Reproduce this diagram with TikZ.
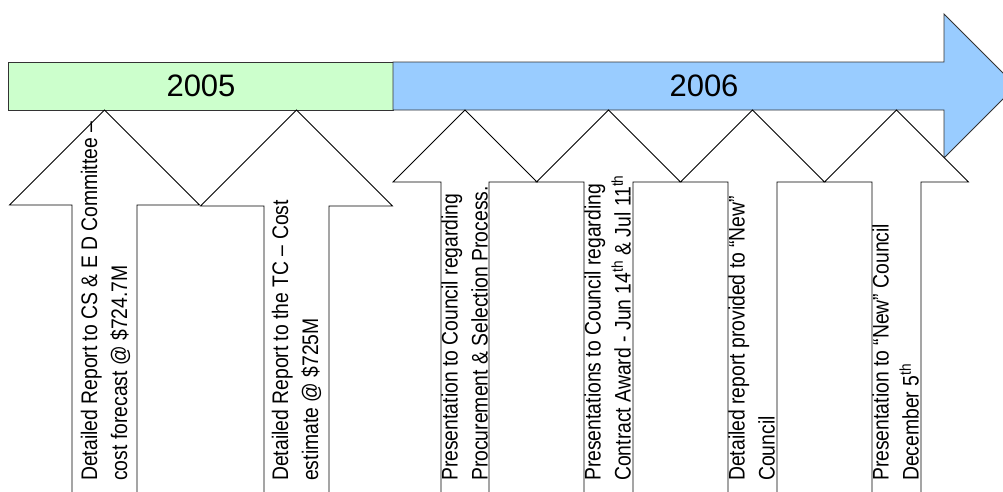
\documentclass[tikz,border=0pt]{standalone}
\usepackage{fontspec}
\setmainfont{Liberation Sans}
\newfontfamily\narrowfont{Liberation Sans}[FakeStretch=0.86]
\definecolor{green05}{HTML}{CCFFCC}
\definecolor{blue06}{HTML}{99CCFF}
\definecolor{edge}{HTML}{333333}
\begin{document}
\begin{tikzpicture}[x=1pt,y=-1pt,
  barpart/.style={draw=edge,line width=0.9pt,line join=miter},
  yearlabel/.style={inner sep=0pt,font=\fontsize{31}{36}\selectfont},
  evt/.style={draw=black,fill=white,line width=0.8pt,line join=miter},
  evtlabel/.style={rotate=90,anchor=north west,inner sep=0pt,align=left,
    font=\narrowfont\fontsize{22.5}{30}\selectfont}]
\useasboundingbox (0,0) rectangle (1003,491);
\clip (0,0) rectangle (1003,491);
% main timeline bar
\path[barpart,fill=green05] (8,62) rectangle (393,110);
\path[barpart,fill=blue06] (393,62) -- (944,62) -- (944,14) -- (1016,86) -- (944,158) -- (944,110) -- (393,110) -- cycle;
\node[yearlabel] (y2005) at (201,86) {2005};
\node[yearlabel] (y2006) at (704,86) {2006};
% event arrows
\path[evt] (104.5,110) -- (199.5,205) -- (137,205) -- (137,500) -- (72,500) -- (72,205) -- (9.5,205) -- cycle;
\path[evt] (296.5,110) -- (392.5,206) -- (329,206) -- (329,500) -- (264,500) -- (264,206) -- (200.5,206) -- cycle;
\path[evt] (465,110) -- (537,182) -- (489,182) -- (489,500) -- (441,500) -- (441,182) -- (393,182) -- cycle;
\path[evt] (608.5,110) -- (680.5,182) -- (633,182) -- (633,500) -- (584,500) -- (584,182) -- (536.5,182) -- cycle;
\path[evt] (752.5,110) -- (824.5,182) -- (777,182) -- (777,500) -- (728,500) -- (728,182) -- (680.5,182) -- cycle;
\path[evt] (896.5,110) -- (968.5,182) -- (921,182) -- (921,500) -- (872,500) -- (872,182) -- (824.5,182) -- cycle;
% labels
\node[evtlabel] (e1) at (80.5,481) {Detailed Report to CS \& E D Committee –\\cost forecast @ \$724.7M};
\node[evtlabel] (e2) at (271.5,481) {Detailed Report to the TC – Cost\\estimate @ \$725M};
\node[evtlabel] (e3) at (441,481) {Presentation to Council regarding\\Procurement \& Selection Process.};
\node[evtlabel] (e4) at (584,481) {Presentations to Council regarding\\Contract Award - Jun 14\textsuperscript{th} \& Jul 11\textsuperscript{th}};
\node[evtlabel] (e5) at (728,481) {Detailed report provided to “New”\\Council};
\node[evtlabel] (e6) at (872,481) {Presentation to “New” Council\\December 5\textsuperscript{th}};
\end{tikzpicture}
\end{document}
